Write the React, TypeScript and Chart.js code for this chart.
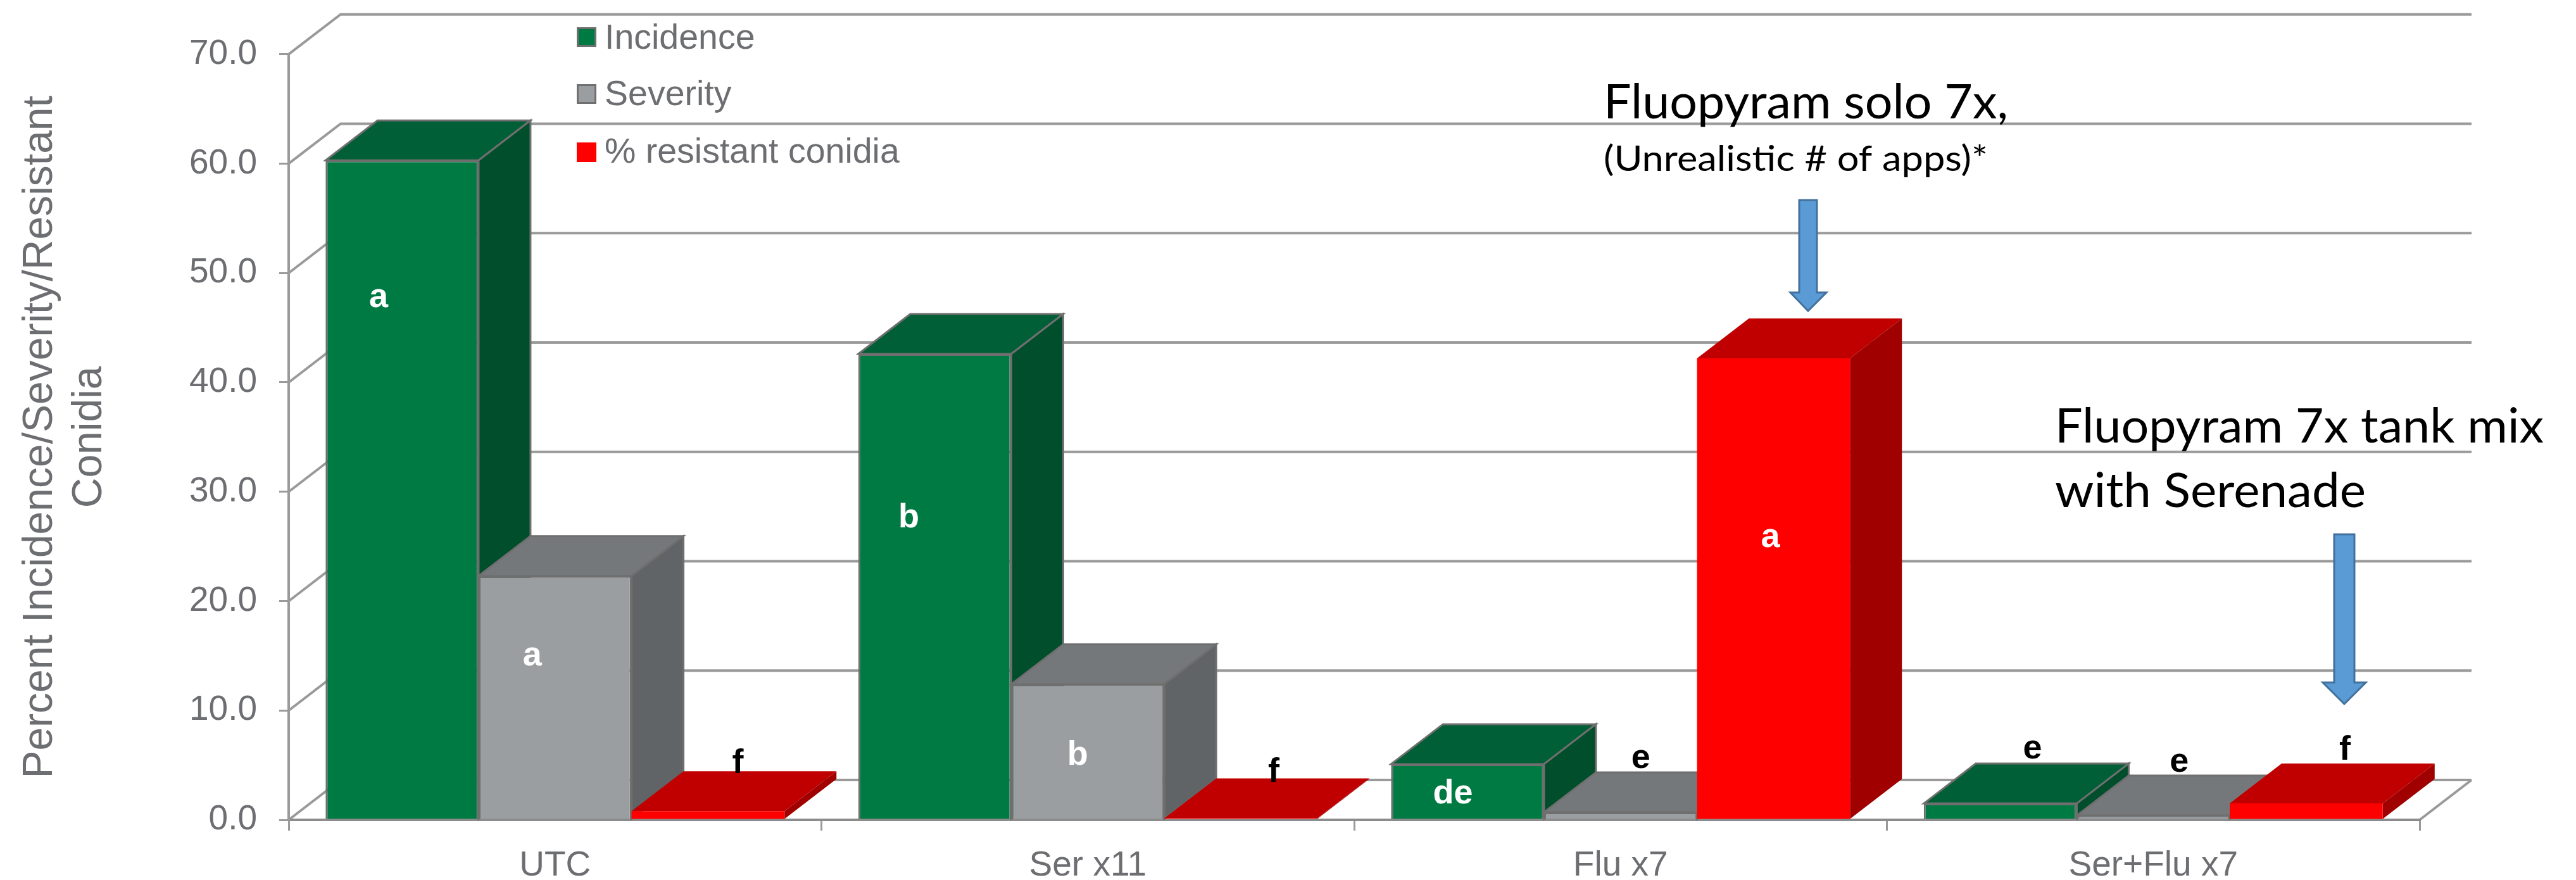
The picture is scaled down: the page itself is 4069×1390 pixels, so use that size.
import React, { useEffect, useRef } from "react";
import { Chart, registerables } from "chart.js";

Chart.register(...registerables);

const categories = ["UTC", "Ser x11", "Flu x7", "Ser+Flu x7"];
const seriesNames = ["Incidence", "Severity", "% resistant conidia"];
const incidence = [60.3, 42.6, 5.1, 1.5];
const severity = [22.3, 12.4, 0.7, 0.4];
const resistant = [0.8, 0.15, 42.2, 1.5];
const yAxisTitle = ["Percent Incidence/Severity/Resistant", "Conidia"];

const incidenceLetters = ["a", "b", "de", "e"];
const severityLetters = ["a", "b", "e", "e"];
const resistantLetters = ["f", "f", "a", "f"];

// Letter placement, relative to each bar's front-top centre
const letterDx = [
  [-37, -41, -23, 51],
  [-36, -16, 32, 41],
  [47, 52, -5, 61],
];
const letterDy = [
  [232, 274, 62, -71],
  [141, 127, -70, -69],
  [-60, -57, 298, -69],
];
const letterColors = [
  ["#ffffff", "#ffffff", "#ffffff", "#000000"],
  ["#ffffff", "#ffffff", "#000000", "#000000"],
  ["#000000", "#000000", "#ffffff", "#000000"],
];

const frontColors = ["#007a43", "#9a9ea0", "#ff0000"];
const topColors = ["#005f36", "#75787b", "#c00000"];
const sideColors = ["#004e2b", "#616466", "#a00000"];
const edgeColors = ["#6f6f6f", "#6f6f6f", "#ff0000"];
const edgeWidths = [3, 3, 0];

const DEPTH_X = 82;
const DEPTH_Y = 63;
const LABEL_GREY = "#6d6e71";
const WALL_GREY = "#9a9a9a";

const notes = [
  { text: "Fluopyram solo 7x,", x: 2533, y: 187, w: 639, size: 76 },
  { text: "(Unrealistic # of apps)*", x: 2533, y: 270, w: 607, size: 56 },
  { text: "Fluopyram 7x tank mix", x: 3246, y: 699, w: 772, size: 76 },
  { text: "with Serenade", x: 3246, y: 801, w: 491, size: 76 },
];
const arrows = [
  { l: 2842, r: 2870, top: 316, neck: 462, tip: 491, hl: 2828, hr: 2885 },
  { l: 3687, r: 3719, top: 844, neck: 1078, tip: 1112, hl: 3669, hr: 3737 },
];
const legendRows = [
  { box: 43, base: 77 },
  { box: 133, base: 166 },
  { box: 225, base: 257 },
];

function poly(ctx: CanvasRenderingContext2D, pts: number[][], fill: string, stroke: string, lw: number) {
  ctx.beginPath();
  pts.forEach((p, i) => (i ? ctx.lineTo(p[0], p[1]) : ctx.moveTo(p[0], p[1])));
  ctx.closePath();
  ctx.fillStyle = fill;
  ctx.fill();
  if (lw > 0) {
    ctx.strokeStyle = stroke;
    ctx.lineWidth = lw;
    ctx.stroke();
  }
}

const wallPlugin = {
  id: "wall",
  beforeDraw(chart: any) {
    const { ctx, scales } = chart;
    const y = scales.y;
    const x = scales.x;
    const left = x.left;
    const right = x.right;
    ctx.save();
    ctx.strokeStyle = WALL_GREY;
    ctx.lineWidth = 4;
    y.ticks.forEach((t: any) => {
      const py = y.getPixelForValue(t.value);
      ctx.beginPath();
      ctx.moveTo(left, py);
      ctx.lineTo(left + DEPTH_X, py - DEPTH_Y);
      ctx.lineTo(right + DEPTH_X, py - DEPTH_Y);
      ctx.stroke();
    });
    const floor = y.getPixelForValue(0);
    ctx.beginPath();
    ctx.moveTo(right + DEPTH_X, floor - DEPTH_Y);
    ctx.lineTo(right, floor);
    ctx.stroke();
    ctx.restore();
  },
};

const bars3dPlugin = {
  id: "bars3d",
  beforeDatasetDraw() {
    return false;
  },
  beforeDatasetsDraw(chart: any) {
    const { ctx } = chart;
    ctx.save();
    chart.data.datasets.forEach((_: any, di: number) => {
      const meta = chart.getDatasetMeta(di);
      meta.data.forEach((bar: any) => {
        const p = bar.getProps(["x", "y", "base", "width"], true);
        const l = p.x - p.width / 2;
        const r = p.x + p.width / 2;
        const t = p.y;
        const b = p.base;
        poly(ctx, [[l, t], [l + DEPTH_X, t - DEPTH_Y], [r + DEPTH_X, t - DEPTH_Y], [r, t]], topColors[di], edgeColors[di], edgeWidths[di]);
        poly(ctx, [[r, t], [r + DEPTH_X, t - DEPTH_Y], [r + DEPTH_X, b - DEPTH_Y], [r, b]], sideColors[di], edgeColors[di], edgeWidths[di]);
        bar.draw(ctx);
      });
    });
    ctx.restore();
  },
  afterDatasetsDraw(chart: any) {
    const { ctx } = chart;
    ctx.save();
    // letter annotations
    const letters = [incidenceLetters, severityLetters, resistantLetters];
    ctx.font = 'bold 54px "Liberation Sans"';
    ctx.textAlign = "center";
    ctx.textBaseline = "alphabetic";
    chart.data.datasets.forEach((_: any, di: number) => {
      chart.getDatasetMeta(di).data.forEach((bar: any, i: number) => {
        ctx.fillStyle = letterColors[di][i];
        ctx.fillText(letters[di][i], bar.x + letterDx[di][i], bar.y + letterDy[di][i]);
      });
    });
    // legend
    ctx.textAlign = "left";
    ctx.font = '55.5px "Liberation Sans"';
    chart.data.datasets.forEach((d: any, di: number) => {
      const row = legendRows[di];
      ctx.fillStyle = d.backgroundColor;
      ctx.fillRect(911, row.box, 31, 31);
      if (d.borderWidth > 0) {
        ctx.strokeStyle = d.borderColor;
        ctx.lineWidth = 3;
        ctx.strokeRect(912.5, row.box + 1.5, 28, 28);
      }
      ctx.fillStyle = LABEL_GREY;
      ctx.fillText(d.label, 955, row.base);
    });
    // call-out arrows
    arrows.forEach((a) => {
      poly(
        ctx,
        [[a.l, a.top], [a.r, a.top], [a.r, a.neck], [a.hr, a.neck], [(a.l + a.r) / 2, a.tip], [a.hl, a.neck], [a.l, a.neck]],
        "#5b9bd5",
        "#41719c",
        3
      );
    });
    // call-out texts
    ctx.fillStyle = "#000000";
    notes.forEach((n) => {
      ctx.font = `${n.size}px Lato`;
      const m = ctx.measureText(n.text).width;
      ctx.save();
      ctx.translate(n.x, n.y);
      ctx.scale(n.w / m, 1);
      ctx.fillText(n.text, 0, 0);
      ctx.restore();
    });
    ctx.restore();
  },
};

export default function App() {
  const ref = useRef<HTMLCanvasElement>(null);
  useEffect(() => {
    if (!ref.current) return;
    const datasets = [incidence, severity, resistant].map((data, i) => ({
      label: seriesNames[i],
      data,
      backgroundColor: frontColors[i],
      borderColor: edgeColors[i],
      borderWidth: edgeWidths[i],
    }));
    const chart = new Chart(ref.current, {
      type: "bar",
      data: { labels: categories, datasets },
      plugins: [wallPlugin, bars3dPlugin],
      options: {
        animation: false,
        responsive: false,
        layout: { padding: { left: 0, top: 85.7, right: 247, bottom: 0 } },
        datasets: { bar: { categoryPercentage: 0.8615, barPercentage: 1 } },
        plugins: { legend: { display: false }, tooltip: { enabled: false } },
        scales: {
          x: {
            afterFit(s: any) {
              s.height = 95;
            },
            grid: { drawOnChartArea: false, color: "#9a9a9a", lineWidth: 3, tickLength: 17, offset: true },
            border: { color: "#8c8c8c", width: 4 },
            ticks: {
              color: LABEL_GREY,
              font: { family: "Liberation Sans", size: 55 },
              padding: 23,
              maxRotation: 0,
            },
          },
          y: {
            min: 0,
            max: 70,
            afterFit(s: any) {
              s.width = 456;
            },
            grid: { drawOnChartArea: false, color: "#9a9a9a", lineWidth: 3, tickLength: 15 },
            border: { color: "#9a9a9a", width: 4 },
            ticks: {
              stepSize: 10,
              color: LABEL_GREY,
              padding: 35,
              font: { family: "Liberation Sans", size: 55 },
              callback: (v: any) => Number(v).toFixed(1),
            },
            title: {
              display: true,
              text: yAxisTitle,
              color: LABEL_GREY,
              font: { family: "Liberation Sans", size: 66, lineHeight: 1.18 },
              padding: { top: 25, bottom: 0 },
            },
          },
        },
      },
    } as any);
    return () => chart.destroy();
  }, []);
  return (
    <div style={{ position: "absolute", left: 0, top: 0, width: 4069, height: 1390, background: "#fff" }}>
      <canvas ref={ref} width={4069} height={1390} style={{ display: "block" }} />
    </div>
  );
}
